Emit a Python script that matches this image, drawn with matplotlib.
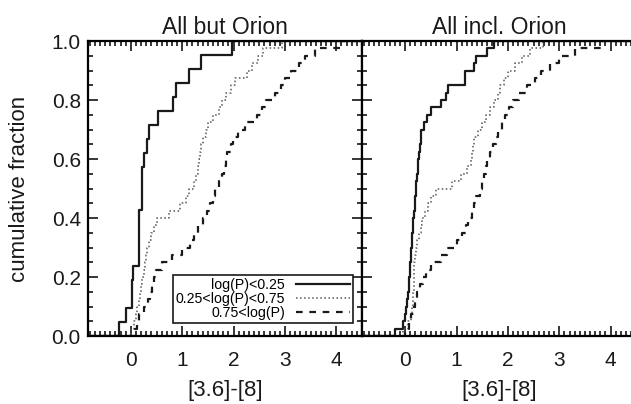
import numpy as np
import matplotlib
matplotlib.use("Agg")
import matplotlib.pyplot as plt
from matplotlib.ticker import MultipleLocator

plt.rcParams['font.family'] = ['Liberation Sans', 'DejaVu Sans']

panel_titles = ["All but Orion", "All incl. Orion"]
legend_labels = ["log(P)<0.25", "0.25<log(P)<0.75", "0.75<log(P)"]
x_label = "[3.6]-[8]"
y_label = "cumulative fraction"

# sorted [3.6]-[8] values of each period bin
noorion_short = [-0.23, -0.09, 0.02, 0.02, 0.05, 0.155, 0.155, 0.155, 0.155, 0.213,
                 0.213, 0.213, 0.265, 0.31, 0.357, 0.52, 0.82, 0.88, 1.13, 1.357, 1.96]
noorion_mid = [0.0, 0.06, 0.1, 0.12, 0.15, 0.18, 0.19, 0.21, 0.25, 0.28,
               0.3, 0.32, 0.36, 0.4, 0.45, 0.51, 0.75, 0.96, 1.07, 1.13,
               1.23, 1.27, 1.3, 1.32, 1.34, 1.36, 1.41, 1.46, 1.51, 1.6,
               1.71, 1.78, 1.86, 1.945, 2.02, 2.27, 2.35, 2.47, 2.57, 2.95]
noorion_long = [0.08, 0.12, 0.15, 0.25, 0.33, 0.38, 0.42, 0.45, 0.48, 0.6,
                0.8, 1.0, 1.15, 1.23, 1.3, 1.41, 1.48, 1.55, 1.59, 1.64,
                1.71, 1.78, 1.82, 1.85, 1.88, 1.94, 1.98, 2.09, 2.23, 2.45,
                2.55, 2.64, 2.8, 2.93, 3.01, 3.12, 3.28, 3.39, 3.58, 4.1]

all_short = [-0.2, -0.05, -0.01, 0.02, 0.04, 0.05, 0.07, 0.08, 0.09, 0.1,
             0.11, 0.12, 0.13, 0.14, 0.15, 0.16, 0.18, 0.19, 0.2, 0.21,
             0.22, 0.23, 0.245, 0.25, 0.27, 0.28, 0.3, 0.31, 0.37, 0.43,
             0.51, 0.7, 0.8, 0.84, 1.16, 1.17, 1.35, 1.37, 1.6, 1.73]
all_mid = [-0.05, 0.06, 0.11, 0.13, 0.15, 0.155, 0.165, 0.17, 0.175, 0.18,
           0.195, 0.205, 0.23, 0.27, 0.3, 0.335, 0.38, 0.44, 0.51, 0.61,
           0.92, 1.09, 1.21, 1.28, 1.3, 1.33, 1.35, 1.41, 1.49, 1.58,
           1.66, 1.73, 1.8, 1.85, 1.92, 2.0, 2.13, 2.27, 2.43, 2.69]
all_long = [0.0, 0.07, 0.12, 0.17, 0.2, 0.24, 0.29, 0.345, 0.41, 0.5,
            0.69, 0.82, 1.0, 1.11, 1.19, 1.23, 1.3, 1.34, 1.38, 1.46,
            1.5, 1.54, 1.57, 1.6, 1.66, 1.71, 1.76, 1.8, 1.88, 1.94,
            2.02, 2.09, 2.22, 2.38, 2.52, 2.65, 2.82, 3.0, 3.3, 3.81]

panels = [[noorion_short, noorion_mid, noorion_long],
          [all_short, all_mid, all_long]]

xlo, xhi = -0.84, 4.5
styles = [dict(color='#1a1a1a', lw=1.6, ls='-'),
          dict(color='#555555', lw=1.1, ls=':'),
          dict(color='#1a1a1a', lw=1.6, ls=(0, (3, 3)))]

fig = plt.figure(figsize=(6.31, 4.04), dpi=100)
ax1 = fig.add_axes([0.139, 0.1683, 0.4347, 0.730])
ax2 = fig.add_axes([0.5737, 0.1683, 0.4347, 0.730])

for ax, title, groups in zip([ax1, ax2], panel_titles, panels):
    lines = []
    for vals, st in zip(groups, styles):
        v = np.sort(np.array(vals))
        n = len(v)
        xs = np.r_[xlo, v, xhi]
        ys = np.r_[0.0, np.arange(1, n + 1) / n, 1.0]
        ln, = ax.step(xs, ys, where='post', **st)
        lines.append(ln)
    ax.set_xlim(xlo, xhi)
    ax.set_ylim(0, 1)
    ax.set_title(title, fontsize=16.5, pad=5, color='#1a1a1a')
    ax.set_xlabel(x_label, fontsize=16, color='#1a1a1a')
    ax.xaxis.set_label_coords(0.5, -0.15)
    ax.xaxis.set_major_locator(MultipleLocator(1))
    ax.xaxis.set_minor_locator(MultipleLocator(0.1))
    ax.yaxis.set_major_locator(MultipleLocator(0.2))
    ax.yaxis.set_minor_locator(MultipleLocator(0.05))
    ax.tick_params(which='both', direction='in', top=True, right=True, width=1.1,
                   labelcolor='#1a1a1a')
    ax.tick_params(which='major', length=7)
    ax.tick_params(which='minor', length=3.5)
    ax.tick_params(axis='x', which='both', labelsize=15, pad=11)
    ax.tick_params(axis='y', which='both', labelsize=15, pad=5)
    for sp in ax.spines.values():
        sp.set_linewidth(1.6)
    if ax is ax1:
        handles = lines

ax1.yaxis.set_major_formatter(plt.FormatStrFormatter('%.1f'))
ax1.set_ylabel(y_label, fontsize=16, color='#1a1a1a')
ax1.yaxis.set_label_coords(-0.21, 0.5)
ax2.tick_params(axis='y', which='both', labelleft=False, right=False)

leg = ax1.legend(handles, legend_labels, loc='lower right',
                 bbox_to_anchor=(0.967, 0.044), borderaxespad=0, markerfirst=False,
                 fontsize=10.2, handlelength=3.8, handletextpad=0.8,
                 labelspacing=0.02, borderpad=0.2, fancybox=False,
                 framealpha=1, edgecolor='#1a1a1a')
leg.get_frame().set_linewidth(1.2)

fig.savefig("out.png", dpi=100)
